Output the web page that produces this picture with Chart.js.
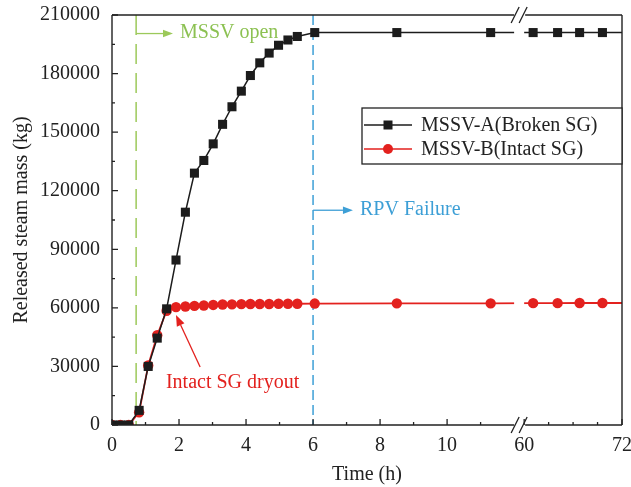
<!DOCTYPE html>
<html><head><meta charset="utf-8">
<script src="https://cdn.jsdelivr.net/npm/chart.js@4/dist/chart.umd.min.js"></script>
<style>html,body{margin:0;padding:0;background:#fff}</style>
</head><body>
<canvas id="c" width="631" height="487"></canvas>
<script>
// ---- data ----
const seriesNames = ['MSSV-A(Broken SG)', 'MSSV-B(Intact SG)'];
const timeH = [0, 0.25, 0.5, 0.81, 1.08, 1.35, 1.63, 1.91, 2.19, 2.46, 2.74, 3.02, 3.30, 3.58, 3.86, 4.13, 4.41, 4.69, 4.97, 5.25, 5.53, 6.05, 8.5, 11.3, 61.1, 64.1, 66.8, 69.6, 72];
const massA = [0, 0, 0, 7500, 30000, 44500, 59500, 84500, 109000, 129000, 135500, 144000, 154000, 163000, 171000, 179000, 185500, 190500, 194500, 197200, 199000, 201000, 201000, 201000, 201000, 201000, 201000, 201000, 201000];
const massB = [0, 0, 0, 6500, 30500, 46000, 58500, 60400, 60700, 61000, 61200, 61500, 61700, 61800, 61900, 62000, 62000, 62000, 62100, 62100, 62100, 62200, 62300, 62300, 62400, 62400, 62500, 62500, 62500];
const xTickHours = [0, 2, 4, 6, 8, 10, 60, 72];
const xMinorHours = [1, 3, 5, 7, 9, 11, 63, 66, 69];
const yTickValues = [0, 30000, 60000, 90000, 120000, 150000, 180000, 210000];
const yMinorValues = [15000, 45000, 75000, 105000, 135000, 165000, 195000];
const events = { mssvOpen: 0.72, rpvFailure: 6.0 };
const eventLabels = { mssvOpen: 'MSSV open', rpvFailure: 'RPV Failure', dryout: 'Intact SG dryout' };
const axisTitles = { x: 'Time (h)', y: 'Released steam mass (kg)' };

// ---- broken time axis: 0-12 h, then 60-72 h compressed ----
const BREAK_LO = 12, BREAK_HI = 60, GAP = 0.3, RIGHT_K = 0.2433;
function toAxis(t) { return t <= BREAK_LO ? t : BREAK_LO + GAP + (t - BREAK_HI) * RIGHT_K; }
const X_MAX = toAxis(72);

const BLACK = '#1c1c1c', RED = '#e3211e', GREEN = '#9cc95a', GREEN_TXT = '#8cc152', BLUE = '#3d9fd6';
const FONT = '"Liberation Serif", "Times New Roman", serif';

function pts(ys) { return timeH.map((t, i) => ({ x: toAxis(t), y: ys[i] })); }
const lastIdx = timeH.length - 1;

function arrow(ctx, x1, y1, x2, y2, color, head) {
  ctx.strokeStyle = color; ctx.fillStyle = color; ctx.lineWidth = 1.3; ctx.setLineDash([]);
  const ang = Math.atan2(y2 - y1, x2 - x1);
  const bx = x2 - head * Math.cos(ang), by = y2 - head * Math.sin(ang);
  ctx.beginPath(); ctx.moveTo(x1, y1); ctx.lineTo(bx, by); ctx.stroke();
  const w = head * 0.38;
  ctx.beginPath();
  ctx.moveTo(x2, y2);
  ctx.lineTo(bx + w * Math.sin(ang), by - w * Math.cos(ang));
  ctx.lineTo(bx - w * Math.sin(ang), by + w * Math.cos(ang));
  ctx.closePath(); ctx.fill();
}

const decor = {
  id: 'decor',
  beforeDatasetsDraw(chart) {
    const { ctx, chartArea: a, scales: { x } } = chart;
    ctx.save();
    ctx.lineWidth = 1.5;
    ctx.strokeStyle = GREEN; ctx.setLineDash([20, 9]);
    const gx = x.getPixelForValue(toAxis(events.mssvOpen));
    ctx.beginPath(); ctx.moveTo(gx, a.top); ctx.lineTo(gx, a.bottom); ctx.stroke();
    ctx.strokeStyle = BLUE; ctx.setLineDash([10, 5]);
    const bx = x.getPixelForValue(toAxis(events.rpvFailure));
    ctx.beginPath(); ctx.moveTo(bx, a.top); ctx.lineTo(bx, a.bottom); ctx.stroke();
    ctx.restore();
  },
  afterDatasetsDraw(chart) {
    const { ctx, chartArea: a, scales: { x, y } } = chart;
    ctx.save();
    // mask the axis break gap
    const gL = x.getPixelForValue(BREAK_LO), gR = x.getPixelForValue(BREAK_LO + GAP);
    ctx.fillStyle = '#fff';
    ctx.fillRect(gL, a.top - 2, gR - gL, a.bottom - a.top + 4);
    const gm = (gL + gR) / 2;
    // frame
    ctx.strokeStyle = '#222'; ctx.lineWidth = 1.4; ctx.setLineDash([]);
    ctx.beginPath();
    ctx.moveTo(a.left, a.top); ctx.lineTo(a.left, a.bottom);
    ctx.moveTo(a.right, a.top); ctx.lineTo(a.right, a.bottom);
    ctx.moveTo(a.left, a.top); ctx.lineTo(gm - 5, a.top);
    ctx.moveTo(gm + 6, a.top); ctx.lineTo(a.right, a.top);
    ctx.moveTo(a.left, a.bottom); ctx.lineTo(gm - 5, a.bottom);
    ctx.moveTo(gm + 6, a.bottom); ctx.lineTo(a.right, a.bottom);
    ctx.stroke();
    // inward ticks
    ctx.lineWidth = 1.3;
    ctx.beginPath();
    xTickHours.forEach(t => { const px = x.getPixelForValue(toAxis(t)); ctx.moveTo(px, a.bottom); ctx.lineTo(px, a.bottom - 6); });
    xMinorHours.forEach(t => { const px = x.getPixelForValue(toAxis(t)); ctx.moveTo(px, a.bottom); ctx.lineTo(px, a.bottom - 3); });
    yTickValues.forEach(v => { const py = y.getPixelForValue(v); ctx.moveTo(a.left, py); ctx.lineTo(a.left + 6, py); });
    yMinorValues.forEach(v => { const py = y.getPixelForValue(v); ctx.moveTo(a.left, py); ctx.lineTo(a.left + 3, py); });
    ctx.stroke();
    // break slashes
    ctx.lineWidth = 1.3;
    ctx.beginPath();
    [a.top, a.bottom].forEach(yy => {
      [-4, 4].forEach(dx => { ctx.moveTo(gm + dx - 4, yy + 8); ctx.lineTo(gm + dx + 4, yy - 8); });
    });
    ctx.stroke();
    // annotations
    ctx.font = '20px ' + FONT; ctx.textBaseline = 'middle'; ctx.textAlign = 'left';
    const gx = x.getPixelForValue(toAxis(events.mssvOpen));
    const gy = y.getPixelForValue(200500);
    arrow(ctx, gx, gy, x.getPixelForValue(1.82), gy, GREEN, 10);
    ctx.fillStyle = GREEN_TXT; ctx.fillText(eventLabels.mssvOpen, x.getPixelForValue(2.03), gy - 1);
    const bx = x.getPixelForValue(toAxis(events.rpvFailure));
    const by = y.getPixelForValue(110000);
    arrow(ctx, bx, by, x.getPixelForValue(7.19), by, BLUE, 10);
    ctx.fillStyle = BLUE; ctx.fillText(eventLabels.rpvFailure, x.getPixelForValue(7.40), by);
    arrow(ctx, x.getPixelForValue(2.63), y.getPixelForValue(29700), x.getPixelForValue(1.91), y.getPixelForValue(56300), RED, 11);
    ctx.fillStyle = RED; ctx.fillText(eventLabels.dryout, x.getPixelForValue(1.61), y.getPixelForValue(21500));
    // legend
    const lx = a.right - 260, ly = a.top + 93, lw = 260, lh = 56;
    ctx.fillStyle = '#fff'; ctx.fillRect(lx, ly, lw, lh);
    ctx.strokeStyle = '#222'; ctx.lineWidth = 1.3; ctx.strokeRect(lx, ly, lw, lh);
    chart.data.datasets.forEach((ds, i) => {
      const ey = ly + 17 + i * 24;
      ctx.strokeStyle = ds.borderColor; ctx.lineWidth = 1.5;
      ctx.beginPath(); ctx.moveTo(lx + 2, ey); ctx.lineTo(lx + 50, ey); ctx.stroke();
      ctx.fillStyle = ds.backgroundColor;
      if (ds.pointStyle === 'rect') ctx.fillRect(lx + 26 - 4.5, ey - 4.5, 9, 9);
      else { ctx.beginPath(); ctx.arc(lx + 26, ey, 5, 0, Math.PI * 2); ctx.fill(); }
      ctx.fillStyle = '#222'; ctx.font = '20px ' + FONT;
      ctx.fillText(ds.label, lx + 59, ey + 1);
    });
    ctx.restore();
  }
};

new Chart(document.getElementById('c'), {
  type: 'line',
  data: {
    datasets: [
      { label: seriesNames[0], data: pts(massA), borderColor: BLACK, backgroundColor: BLACK, borderWidth: 1.5,
        pointStyle: 'rect', pointRadius: c => c.dataIndex === lastIdx ? 0 : 6.4, pointBorderWidth: 0, tension: 0 },
      { label: seriesNames[1], data: pts(massB), borderColor: RED, backgroundColor: RED, borderWidth: 1.8,
        pointStyle: 'circle', pointRadius: c => c.dataIndex === lastIdx ? 0 : 5.2, pointBorderWidth: 0, tension: 0 }
    ]
  },
  options: {
    responsive: false, devicePixelRatio: 1, animation: false,
    layout: { padding: { top: 15, right: 9, left: 0, bottom: 0 } },
    plugins: { legend: { display: false }, tooltip: { enabled: false } },
    scales: {
      x: {
        type: 'linear', min: 0, max: X_MAX,
        grid: { display: false }, border: { display: false },
        afterBuildTicks: s => { s.ticks = xTickHours.map(t => ({ value: toAxis(t) })); },
        afterFit: s => { s.height = 62; s.paddingLeft = 0; s.paddingRight = 0; s.paddingTop = 0; s.paddingBottom = 0; },
        ticks: { color: '#222', font: { family: FONT, size: 20 }, padding: 1, maxRotation: 0, autoSkip: false,
          callback: (v, i) => String(xTickHours[i]) },
        title: { display: true, text: axisTitles.x, color: '#222', font: { family: FONT, size: 20 }, padding: { top: 0, bottom: 0 } }
      },
      y: {
        min: 0, max: 210000,
        grid: { display: false }, border: { display: false },
        afterBuildTicks: s => { s.ticks = yTickValues.map(v => ({ value: v })); },
        afterFit: s => { s.width = 112; s.paddingLeft = 0; s.paddingRight = 0; s.paddingTop = 0; s.paddingBottom = 0; },
        ticks: { color: '#222', font: { family: FONT, size: 20 }, padding: 4, callback: v => String(v) },
        title: { display: true, text: axisTitles.y, color: '#222', font: { family: FONT, size: 20 }, padding: { top: 10, bottom: 0 } }
      }
    }
  },
  plugins: [decor]
});
</script>
</body></html>
